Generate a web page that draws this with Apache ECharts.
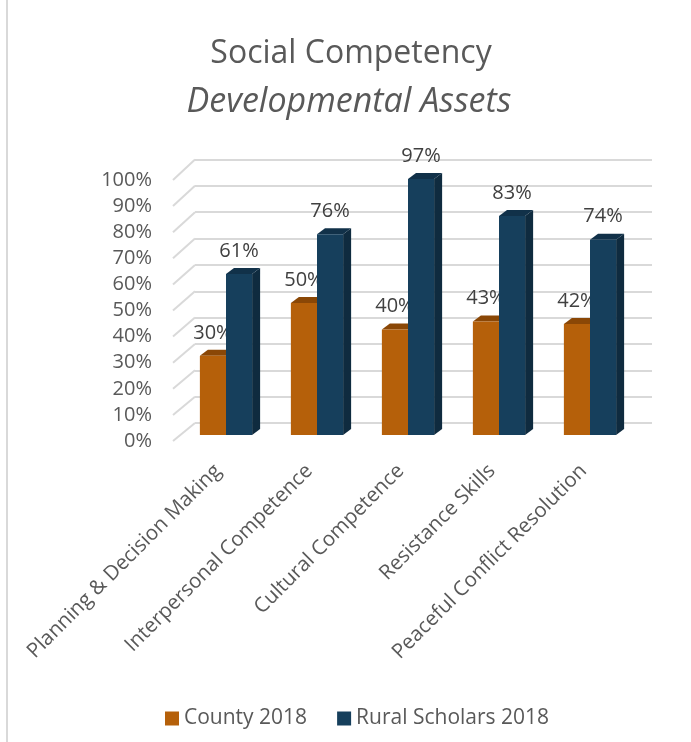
<!DOCTYPE html>
<html>
<head>
<meta charset="utf-8">
<script src="https://cdn.jsdelivr.net/npm/echarts@6/dist/echarts.min.js"></script>
<style>
html,body{margin:0;padding:0;background:#fff;}
#chart{width:691px;height:742px;}
</style>
</head>
<body>
<div id="chart"></div>
<script>
const categories = ['Planning & Decision Making', 'Interpersonal Competence', 'Cultural Competence', 'Resistance Skills', 'Peaceful Conflict Resolution'];
const county2018 = [30, 50, 40, 43, 42];
const rural2018 = [61, 76, 97, 83, 74];
const yTicks = [0, 10, 20, 30, 40, 50, 60, 70, 80, 90, 100];
const seriesNames = ['County 2018', 'Rural Scholars 2018'];

const FONT = '"Open Sans"';
const BACK = { left: 195, top: 159.5, width: 457, height: 263.5 };
const FRONT = { left: 175, top: 180, width: 457, height: 261 };
const BARS = { left: 180.5, top: 171, width: 455, height: 264 };
const DEPTH = { dx: 8, dy: -6 };

const colors = {
  county: { front: '#B5600A', top: '#8A4706', side: '#7A3F05' },
  rural: { front: '#163F5C', top: '#113149', side: '#0F2B3F' }
};

function backY(v) { return BACK.top + BACK.height * (1 - v / 100); }

function barRenderer(which) {
  const col = colors[which];
  return function (params, api) {
    const idx = api.value(0);
    const val = api.value(1);
    const top = api.coord([idx, val]);
    const base = api.coord([idx, 0]);
    const w = api.size([1, 0])[0] * 0.287;
    const x1 = which === 'county' ? top[0] - w : top[0];
    const x2 = which === 'county' ? top[0] : top[0] + w;
    const yt = top[1], yb = base[1];
    const dx = DEPTH.dx, dy = DEPTH.dy;
    return {
      type: 'group',
      children: [
        { type: 'polygon', shape: { points: [[x2, yt], [x2 + dx, yt + dy], [x2 + dx, yb + dy], [x2, yb]] }, style: { fill: col.side } },
        { type: 'polygon', shape: { points: [[x1, yt], [x1 + dx, yt + dy], [x2 + dx, yt + dy], [x2, yt]] }, style: { fill: col.top } },
        { type: 'rect', shape: { x: x1, y: yt, width: x2 - x1, height: yb - yt }, style: { fill: col.front } },
        { type: 'text', z2: 100, style: { x: (x1 + x2) / 2, y: yt - 23, text: val + '%', fill: '#404040', font: '20px ' + FONT, align: 'center', verticalAlign: 'middle' } }
      ]
    };
  };
}

const chart = echarts.init(document.getElementById('chart'), null, { renderer: 'canvas' });
chart.setOption({
  backgroundColor: '#ffffff',
  animation: false,
  textStyle: { fontFamily: FONT },
  title: [
    { text: 'Social Competency', left: 346, textAlign: 'center', top: 33, textStyle: { fontFamily: FONT, fontSize: 32, fontWeight: 'normal', color: '#595959' } },
    { text: 'Developmental Assets', left: 344, textAlign: 'center', top: 80, textStyle: { fontFamily: FONT, fontSize: 34, fontWeight: 'normal', fontStyle: 'italic', color: '#595959' } }
  ],
  legend: {
    data: seriesNames,
    left: 160,
    top: 703,
    icon: 'rect',
    itemWidth: 14,
    itemHeight: 14,
    itemGap: 30,
    textStyle: { fontFamily: FONT, fontSize: 21, color: '#595959' }
  },
  graphic: [
    { type: 'line', shape: { x1: 7, y1: 0, x2: 7, y2: 742 }, style: { stroke: '#d9d9d9', lineWidth: 2 }, silent: true }
  ],
  grid: [
    { left: BACK.left, top: BACK.top, width: BACK.width, height: BACK.height },
    { left: FRONT.left, top: FRONT.top, width: FRONT.width, height: FRONT.height },
    { left: BARS.left, top: BARS.top, width: BARS.width, height: BARS.height }
  ],
  xAxis: [
    { gridIndex: 0, type: 'category', data: categories, show: false },
    {
      gridIndex: 1, type: 'category', data: categories,
      axisLine: { show: false }, axisTick: { show: false },
      axisLabel: { interval: 0, rotate: 45, margin: 24, padding: [0, 4, 0, 0], fontSize: 20.5, fontFamily: FONT, color: '#595959' }
    },
    { gridIndex: 2, type: 'category', data: categories, show: false }
  ],
  yAxis: [
    {
      gridIndex: 0, type: 'value', min: 0, max: 100, interval: 10,
      axisLine: { show: false }, axisTick: { show: false }, axisLabel: { show: false },
      splitLine: { show: true, lineStyle: { color: '#d9d9d9', width: 2 } }
    },
    {
      gridIndex: 1, type: 'value', min: 0, max: 100, interval: 10,
      axisLine: { show: false }, axisTick: { show: false }, splitLine: { show: false },
      axisLabel: { formatter: '{value}%', margin: 23, fontSize: 20, fontFamily: FONT, color: '#595959' }
    },
    { gridIndex: 2, type: 'value', min: 0, max: 100, show: false, splitLine: { show: false } }
  ],
  series: [
    {
      name: 'diagonals', type: 'custom', xAxisIndex: 1, yAxisIndex: 1, z: 1, silent: true,
      data: yTicks.map(v => [0, v]),
      encode: { x: 0, y: 1 },
      renderItem: function (params, api) {
        const v = api.value(1);
        const p = api.coord([0, v]);
        const x0 = params.coordSys.x - 2;
        return { type: 'line', shape: { x1: x0, y1: p[1], x2: BACK.left, y2: backY(v) }, style: { stroke: '#d9d9d9', lineWidth: 2 } };
      }
    },
    {
      name: seriesNames[0], type: 'custom', xAxisIndex: 2, yAxisIndex: 2, z: 5,
      itemStyle: { color: colors.county.front },
      data: county2018.map((v, i) => [i, v]),
      encode: { x: 0, y: 1 },
      renderItem: barRenderer('county')
    },
    {
      name: seriesNames[1], type: 'custom', xAxisIndex: 2, yAxisIndex: 2, z: 6,
      itemStyle: { color: colors.rural.front },
      data: rural2018.map((v, i) => [i, v]),
      encode: { x: 0, y: 1 },
      renderItem: barRenderer('rural')
    }
  ]
});
</script>
</body>
</html>
